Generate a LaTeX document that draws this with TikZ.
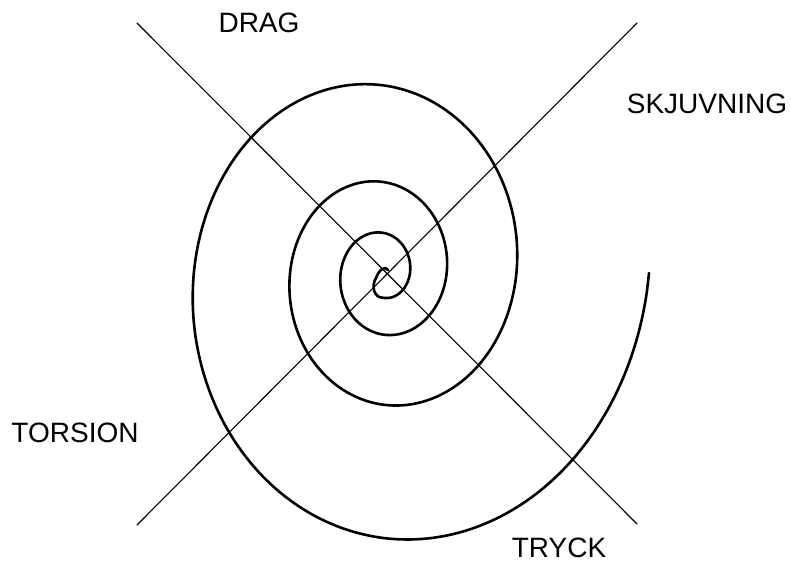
\documentclass[tikz,border=0pt]{standalone}
\usepackage{fontspec}
\setmainfont{Liberation Sans}

\begin{document}
\begin{tikzpicture}[
    x=1pt,
    y=-1pt,
    line cap=round,
    line join=round,
    every node/.style={font=\fontsize{28}{30}\selectfont,inner sep=0pt,anchor=center},
    declare function={sprad(\t)=279.7*exp(-0.0017845*\t)-13.7;},
]
\definecolor{spInk}{HTML}{000000}

\tikzset{
    axisline/.style={draw=spInk,line width=1.1pt},
    spiralline/.style={draw=spInk,line width=2.6pt},
}

\useasboundingbox (0,0) rectangle (791,562);

% load labels
\node[text=spInk] (drag) at (259,23) {DRAG};
\node[text=spInk] (skjuvning) at (707,104) {SKJUVNING};
\node[text=spInk] (torsion) at (75,433) {TORSION};
\node[text=spInk] (tryck) at (559,548) {TRYCK};

% line ends
\coordinate (dragend) at (137,23);
\coordinate (tryckend) at (637,524);
\coordinate (torsionend) at (137,525);
\coordinate (skjuvend) at (637,23);

\draw[axisline] (dragend) -- (tryckend);
\draw[axisline] (torsionend) -- (skjuvend);

% spiral, from the outer end inwards, then the small hand-drawn tail
\coordinate (spiralend) at (388,270);
\draw[spiralline] plot[smooth,domain=0:1170,samples=300,variable=\t]
        ({383+sprad(\t)*cos(\t)},{273+1.18*sprad(\t)*sin(\t)})
    .. controls (374,298) and (371,286) .. (376,278)
    .. controls (379,270) and (385,265) .. (spiralend);
\end{tikzpicture}
\end{document}
